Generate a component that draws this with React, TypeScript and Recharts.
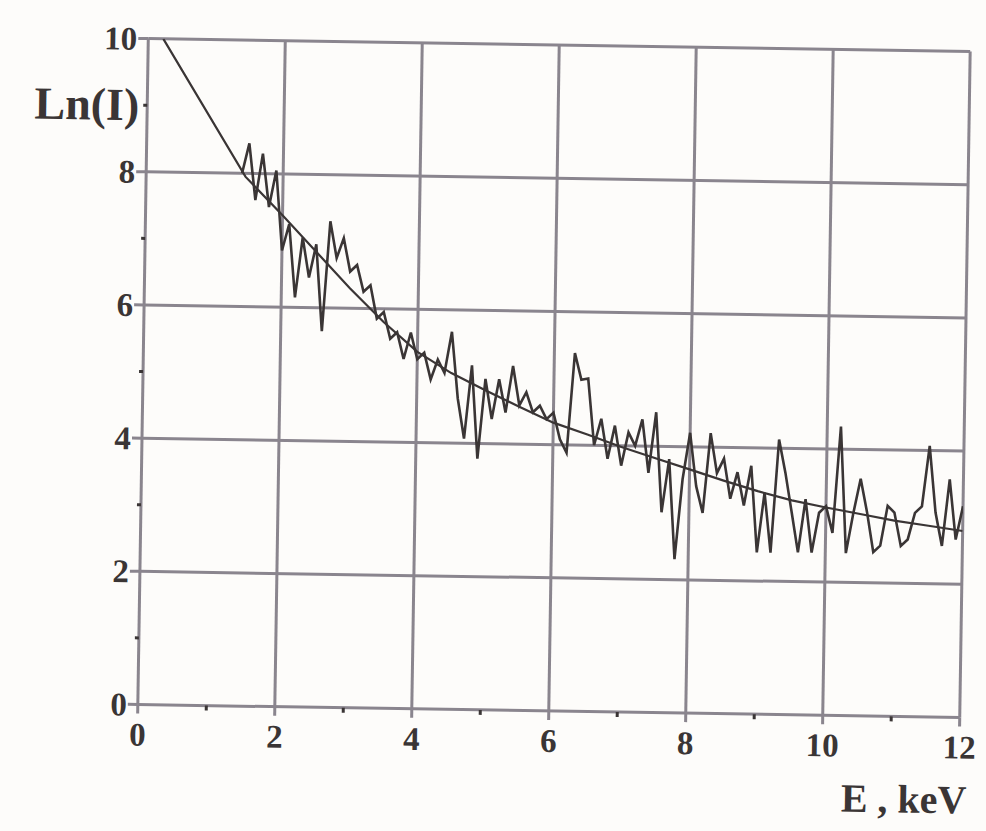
import { LineChart, Line, XAxis, YAxis, ReferenceLine, Label } from 'recharts';

// measured spectrum, ln of intensity against photon energy
const spectrumEnergy = [
  1.4, 1.5, 1.6, 1.7, 1.8, 1.9, 2.0, 2.1, 2.2, 2.3, 2.4, 2.5, 2.6, 2.7, 2.8, 2.9,
  3.0, 3.1, 3.2, 3.3, 3.4, 3.5, 3.6, 3.7, 3.8, 3.9, 4.0, 4.1, 4.2, 4.3, 4.4, 4.5,
  4.6, 4.7, 4.8, 4.9, 5.0, 5.1, 5.2, 5.3, 5.4, 5.5, 5.6, 5.7, 5.8, 5.9, 6.0, 6.1,
  6.2, 6.3, 6.4, 6.5, 6.6, 6.7, 6.8, 6.9, 7.0, 7.1, 7.2, 7.3, 7.4, 7.5, 7.6, 7.7,
  7.8, 7.9, 8.0, 8.1, 8.2, 8.3, 8.4, 8.5, 8.6, 8.7, 8.8, 8.9, 9.0, 9.1, 9.2, 9.3,
  9.4, 9.5, 9.6, 9.7, 9.8, 9.9, 10.0, 10.1, 10.2, 10.3, 10.4, 10.5, 10.6, 10.7,
  10.8, 10.9, 11.0, 11.1, 11.2, 11.3, 11.4, 11.5, 11.6, 11.7, 11.8, 11.9, 12.0,
];
const spectrumLn = [
  8.0, 8.45, 7.6, 8.3, 7.5, 8.05, 6.85, 7.25, 6.15, 7.05, 6.45, 6.95, 5.65, 7.3, 6.75, 7.05,
  6.55, 6.65, 6.25, 6.35, 5.85, 5.95, 5.55, 5.65, 5.25, 5.65, 5.25, 5.35, 4.95, 5.25, 5.05, 5.67,
  4.67, 4.07, 5.17, 3.77, 4.97, 4.37, 4.97, 4.47, 5.17, 4.58, 4.78, 4.48, 4.58, 4.38, 4.48, 4.08,
  3.88, 5.38, 4.98, 5.0, 4.0, 4.4, 3.8, 4.3, 3.7, 4.2, 4.0, 4.4, 3.6, 4.51, 3.01, 3.81,
  2.31, 3.51, 4.21, 3.41, 3.01, 4.21, 3.61, 3.83, 3.23, 3.63, 3.13, 3.73, 2.43, 3.33, 2.43, 4.13,
  3.63, 3.04, 2.44, 3.24, 2.44, 3.04, 3.14, 2.74, 4.34, 2.44, 3.04, 3.56, 3.06, 2.46,
  2.56, 3.16, 3.06, 2.56, 2.66, 3.06, 3.16, 4.07, 3.07, 2.57, 3.57, 2.67, 3.17,
];

// fitted curve: straight start, then a gentle decay
const fitEnergy = [0.22, 1.45, 2, 2.5, 3, 3.5, 4, 4.5, 5, 5.5, 6, 6.5, 7, 7.5, 8, 8.5, 9, 9.5, 10, 10.5, 11, 11.5, 12];
const fitLn = [10, 7.95, 7.38, 6.84, 6.3, 5.8, 5.36, 5.05, 4.8, 4.56, 4.33, 4.16, 3.98, 3.82, 3.66, 3.5, 3.35, 3.22, 3.12, 3.03, 2.94, 2.87, 2.8];

const xTicks = [0, 1, 2, 3, 4, 5, 6, 7, 8, 9, 10, 11, 12];
const yTicks = [0, 1, 2, 3, 4, 5, 6, 7, 8, 9, 10];
const xGrid = [2, 4, 6, 8, 10, 12];
const yGrid = [2, 4, 6, 8, 10];

const spectrum = spectrumEnergy.map((e, i) => ({ e, ln: spectrumLn[i] }));
const fit = fitEnergy.map((e, i) => ({ e, ln: fitLn[i] }));

const ink = '#3a3535';
const grid = '#8a858e';
const font = '"Liberation Serif", "Times New Roman", serif';

const YTick = ({ x, y, payload }: any) => {
  const v = payload.value;
  if (v === 9) {
    return (
      <g>
        <line x1={x - 4} x2={x} y1={y} y2={y} stroke={ink} strokeWidth={3} />
        <text x={x - 8} y={y} dy="0.33em" textAnchor="end" fontFamily={font} fontWeight="bold" fontSize={46} fill={ink}>
          Ln(I)
        </text>
      </g>
    );
  }
  if (v % 2 === 1) {
    return <line x1={x - 4} x2={x} y1={y} y2={y} stroke={ink} strokeWidth={3} />;
  }
  return (
    <g>
      <line x1={x - 10} x2={x} y1={y} y2={y} stroke={grid} strokeWidth={3} />
      <text x={x - 11} y={y} dy="0.34em" textAnchor="end" fontFamily={font} fontWeight="bold" fontSize={33} fill={ink}>
        {v}
      </text>
    </g>
  );
};

const XTick = ({ x, y, payload }: any) => {
  const v = payload.value;
  if (v % 2 === 1) {
    return <line x1={x} x2={x} y1={y} y2={y + 5} stroke={ink} strokeWidth={3} />;
  }
  return (
    <g>
      <line x1={x} x2={x} y1={y} y2={y + 9} stroke={grid} strokeWidth={3} />
      <text x={x} y={y + 41} textAnchor="middle" fontFamily={font} fontWeight="bold" fontSize={33} fill={ink}>
        {v}
      </text>
    </g>
  );
};

const TopTick = ({ x, y, payload }: any) =>
  payload.value % 2 === 1 ? <line x1={x} x2={x} y1={y - 5} y2={y} stroke={ink} strokeWidth={3} /> : <g />;

export default function App() {
  return (
    <div style={{ position: 'absolute', left: 0, top: 0, width: 986, height: 831, background: '#fdfcfa', overflow: 'hidden' }}>
      <div style={{ transform: 'rotate(0.9deg)', transformOrigin: '553px 378px' }}>
        <LineChart width={986} height={831} margin={{ top: 45, right: 21, bottom: 0, left: 0 }}>
          <XAxis
            type="number"
            dataKey="e"
            domain={[0, 12]}
            ticks={xTicks}
            interval={0}
            height={120}
            tickSize={0}
            tickMargin={0}
            tickLine={false}
            axisLine={{ stroke: grid, strokeWidth: 3 }}
            tick={<XTick />}
            allowDataOverflow
          >
            <Label
              content={({ viewBox }: any) => (
                <text
                  x={viewBox.x + viewBox.width + 8}
                  y={viewBox.y + viewBox.height - 24}
                  textAnchor="end"
                  fontFamily={font}
                  fontWeight="bold"
                  fontSize={40}
                  fill={ink}
                >
                  E , keV
                </text>
              )}
            />
          </XAxis>
          <XAxis
            xAxisId="top"
            orientation="top"
            type="number"
            dataKey="e"
            domain={[0, 12]}
            ticks={xTicks}
            interval={0}
            height={0}
            tickSize={0}
            tickMargin={0}
            tickLine={false}
            axisLine={false}
            tick={<TopTick />}
          />
          <YAxis
            type="number"
            domain={[0, 10]}
            ticks={yTicks}
            interval={0}
            width={143}
            tickSize={0}
            tickMargin={0}
            tickLine={false}
            axisLine={{ stroke: grid, strokeWidth: 3 }}
            tick={<YTick />}
            allowDataOverflow
          />
          {xGrid.map((v) => (
            <ReferenceLine key={`x${v}`} x={v} stroke={grid} strokeWidth={3} />
          ))}
          {yGrid.map((v) => (
            <ReferenceLine key={`y${v}`} y={v} stroke={grid} strokeWidth={3} />
          ))}
          <Line
            data={fit}
            dataKey="ln"
            type="linear"
            stroke={ink}
            strokeWidth={2.2}
            dot={false}
            isAnimationActive={false}
          />
          <Line
            data={spectrum}
            dataKey="ln"
            type="linear"
            stroke={ink}
            strokeWidth={2.6}
            dot={false}
            isAnimationActive={false}
          />
        </LineChart>
      </div>
    </div>
  );
}
